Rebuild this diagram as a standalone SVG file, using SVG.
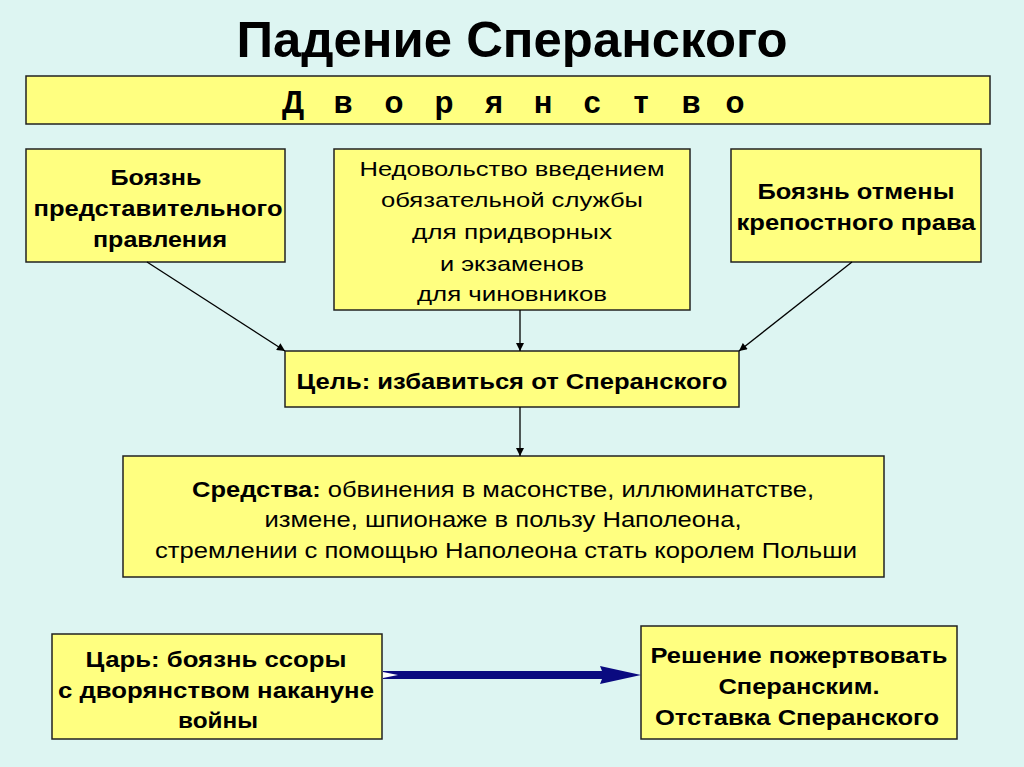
<svg xmlns="http://www.w3.org/2000/svg" width="1024" height="767" viewBox="0 0 1024 767">
<style>
.box{fill:#FFFF80;stroke:#222;stroke-width:1.5}
.b{font-family:"Liberation Sans",Arial,sans-serif;font-weight:bold;fill:#000;text-anchor:middle}
.n{font-family:"Liberation Sans",Arial,sans-serif;fill:#000;text-anchor:middle}
.c{stroke:#000;stroke-width:1.3;fill:none}
</style>
<defs>
<marker id="ah" viewBox="0 0 10 10" refX="10" refY="5" markerWidth="10" markerHeight="8" markerUnits="userSpaceOnUse" orient="auto">
<path d="M0,0 L10,5 L0,10 z" fill="#000"/>
</marker>
</defs>
<rect width="1024" height="767" fill="#DDF5F2"/>
<text class="b" x="512" y="57" font-size="50" textLength="551" lengthAdjust="spacingAndGlyphs">Падение Сперанского</text>

<g id="dvoryanstvo">
<rect class="box" x="26" y="76" width="964" height="48"/>
<text class="b" font-size="31" y="113"><tspan x="293">Д</tspan><tspan x="343">в</tspan><tspan x="394">о</tspan><tspan x="444">р</tspan><tspan x="494">я</tspan><tspan x="543">н</tspan><tspan x="592">с</tspan><tspan x="641">т</tspan><tspan x="691">в</tspan><tspan x="735">о</tspan></text>
</g>

<g id="fear-repr">
<rect class="box" x="26" y="149" width="259" height="113"/>
<text class="b" font-size="22" x="156" y="185" textLength="91" lengthAdjust="spacingAndGlyphs">Боязнь</text>
<text class="b" font-size="22" x="158" y="216" textLength="249" lengthAdjust="spacingAndGlyphs">представительного</text>
<text class="b" font-size="22" x="160" y="247" textLength="134" lengthAdjust="spacingAndGlyphs">правления</text>
</g>

<g id="discontent">
<rect class="box" x="334" y="149" width="356" height="161"/>
<text class="n" font-size="21" x="512" y="176" textLength="305" lengthAdjust="spacingAndGlyphs">Недовольство введением</text>
<text class="n" font-size="21" x="512" y="207" textLength="262" lengthAdjust="spacingAndGlyphs">обязательной службы</text>
<text class="n" font-size="21" x="512" y="239" textLength="200" lengthAdjust="spacingAndGlyphs">для придворных</text>
<text class="n" font-size="21" x="512" y="271" textLength="144" lengthAdjust="spacingAndGlyphs">и экзаменов</text>
<text class="n" font-size="21" x="512" y="301" textLength="190" lengthAdjust="spacingAndGlyphs">для чиновников</text>
</g>

<g id="fear-serf">
<rect class="box" x="731" y="149" width="250" height="113"/>
<text class="b" font-size="22" x="856" y="199" textLength="197" lengthAdjust="spacingAndGlyphs">Боязнь отмены</text>
<text class="b" font-size="22" x="856" y="230" textLength="239" lengthAdjust="spacingAndGlyphs">крепостного права</text>
</g>

<g id="goal">
<rect class="box" x="285" y="351" width="454" height="56"/>
<text class="b" font-size="22" x="512" y="389" textLength="431" lengthAdjust="spacingAndGlyphs">Цель: избавиться от Сперанского</text>
</g>

<g id="means">
<rect class="box" x="123" y="456" width="761" height="121"/>
<text class="n" font-size="22" x="503" y="497" textLength="622" lengthAdjust="spacingAndGlyphs"><tspan font-weight="bold">Средства:</tspan> обвинения в масонстве, иллюминатстве,</text>
<text class="n" font-size="22" x="503" y="527" textLength="477" lengthAdjust="spacingAndGlyphs">измене, шпионаже в пользу Наполеона,</text>
<text class="n" font-size="22" x="506" y="558" textLength="702" lengthAdjust="spacingAndGlyphs">стремлении с помощью Наполеона стать королем Польши</text>
</g>

<g id="tsar">
<rect class="box" x="52" y="634" width="330" height="105"/>
<text class="b" font-size="22" x="216" y="667" textLength="261" lengthAdjust="spacingAndGlyphs">Царь: боязнь ссоры</text>
<text class="b" font-size="22" x="216" y="698" textLength="316" lengthAdjust="spacingAndGlyphs">с дворянством накануне</text>
<text class="b" font-size="22" x="218" y="728" textLength="80" lengthAdjust="spacingAndGlyphs">войны</text>
</g>

<g id="decision">
<rect class="box" x="641" y="626" width="316" height="113"/>
<text class="b" font-size="22" x="799" y="663" textLength="297" lengthAdjust="spacingAndGlyphs">Решение пожертвовать</text>
<text class="b" font-size="22" x="799" y="694" textLength="161" lengthAdjust="spacingAndGlyphs">Сперанским.</text>
<text class="b" font-size="22" x="797" y="725" textLength="284" lengthAdjust="spacingAndGlyphs">Отставка Сперанского</text>
</g>

<g id="connectors">
<line class="c" x1="147" y1="262" x2="285" y2="351" marker-end="url(#ah)"/>
<line class="c" x1="520" y1="310" x2="520" y2="351" marker-end="url(#ah)"/>
<line class="c" x1="852" y1="262" x2="739" y2="351" marker-end="url(#ah)"/>
<line class="c" x1="520" y1="407" x2="520" y2="456" marker-end="url(#ah)"/>
<path d="M383,671 L602,671 L600,666 L641,675 L600,684 L602,679 L383,679 z" fill="#0A0A80"/>
<path d="M383,672 L398,675 L383,678 z" fill="#FFFFFF"/>
</g>
</svg>
